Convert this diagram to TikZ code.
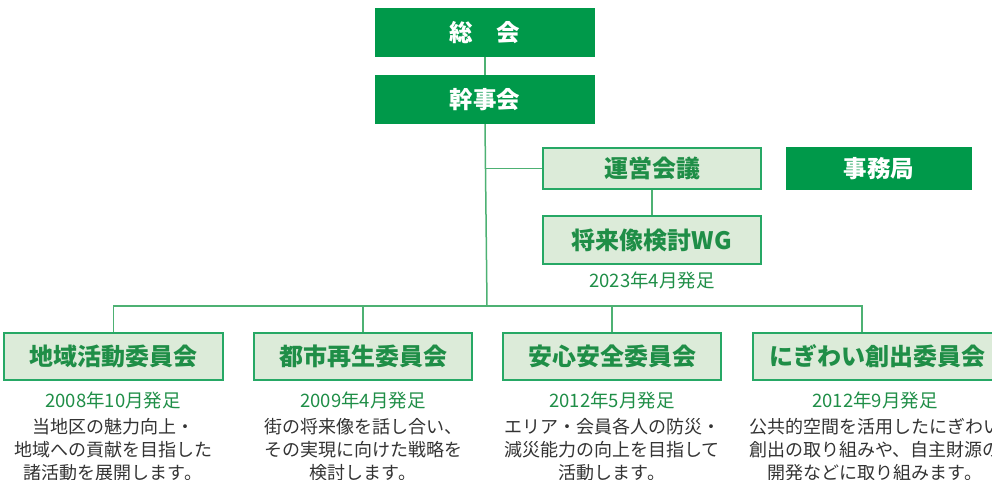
\documentclass[tikz,border=0pt]{standalone}
\usepackage{fontspec}
\setmainfont{Noto Sans CJK JP}
\usepackage{tikz}
\usetikzlibrary{positioning}
\definecolor{kgreen}{HTML}{00994A}
\definecolor{kpale}{HTML}{DCEBD9}
\definecolor{kline}{HTML}{4DB173}
\definecolor{ktext}{HTML}{1F8E47}
\definecolor{kgray}{HTML}{333333}

\begin{document}
\begin{tikzpicture}[x=1pt,y=-1pt,
  darkbox/.style={fill=kgreen,text=white,inner sep=0pt,minimum height=49pt,
    font=\fontsize{23.5}{26}\selectfont\bfseries},
  palebox/.style={fill=kpale,draw=kgreen!85!white,line width=2pt,text=ktext,inner sep=0pt,
    font=\fontsize{24}{26}\selectfont\bfseries},
  datetext/.style={text=ktext,inner sep=0pt,font=\fontsize{18.5}{20}\selectfont},
  desctext/.style={text=kgray,inner sep=0pt,align=center,anchor=north,font=\fontsize{18}{23}\selectfont},
  link/.style={draw=kline,line width=1.5pt}]
\useasboundingbox (0,0) rectangle (992,479);
% top of the tree
\node[darkbox,minimum width=220pt] (sokai) at (485,32.5) {総　会};
\node[darkbox,minimum width=220pt] (kanji) at (485,99.5) {幹事会};
\node[palebox,minimum width=218pt,minimum height=41pt] (unei) at (652,168.5) {運営会議};
\node[darkbox,minimum width=186pt,minimum height=43pt] (jimu) at (879,168.5) {事務局};
\node[palebox,minimum width=218pt,minimum height=48pt] (wg) at (652,240) {将来像検討WG};
\node[datetext] (wgdate) at (652,280) {2023年4月発足};
% committees
\node[palebox,minimum width=219pt,minimum height=47pt] (iin1) at (113.5,356.5) {地域活動委員会};
\node[palebox,minimum width=218pt,minimum height=47pt] (iin2) at (363,356.5) {都市再生委員会};
\node[palebox,minimum width=218pt,minimum height=47pt] (iin3) at (612,356.5) {安心安全委員会};
\node[palebox,minimum width=248pt,minimum height=47pt] (iin4) at (877,356.5) {にぎわい創出委員会};
\node[datetext] (date1) at (113,400) {2008年10月発足};
\node[datetext] (date2) at (363,400) {2009年4月発足};
\node[datetext] (date3) at (612,400) {2012年5月発足};
\node[datetext] (date4) at (875,400) {2012年9月発足};
\node[desctext] (desc1) at (113,418) {当地区の魅力向上・\\地域への貢献を目指した\\諸活動を展開します。};
\node[desctext] (desc2) at (363,418) {街の将来像を話し合い、\\その実現に向けた戦略を\\検討します。};
\node[desctext] (desc3) at (612,418) {エリア・会員各人の防災・\\減災能力の向上を目指して\\活動します。};
\node[desctext] (desc4) at (875,418) {公共的空間を活用したにぎわい\\創出の取り組みや、自主財源の\\開発などに取り組みます。};
% connectors
\coordinate (bus) at (487,306);
\coordinate (drop4) at (862,306);
\draw[link] (sokai.south) -- (kanji.north);
\draw[link] (kanji.south) -- (bus);
\draw[link] (unei.west) -- (unei.west -| kanji.south);
\draw[link] (unei.south) -- (wg.north);
\draw[link] (iin1.north) |- (bus) -- (drop4) -- (drop4 |- iin4.north);
\draw[link] (iin2.north) -- (iin2.north |- bus);
\draw[link] (iin3.north) -- (iin3.north |- bus);
\end{tikzpicture}
\end{document}
